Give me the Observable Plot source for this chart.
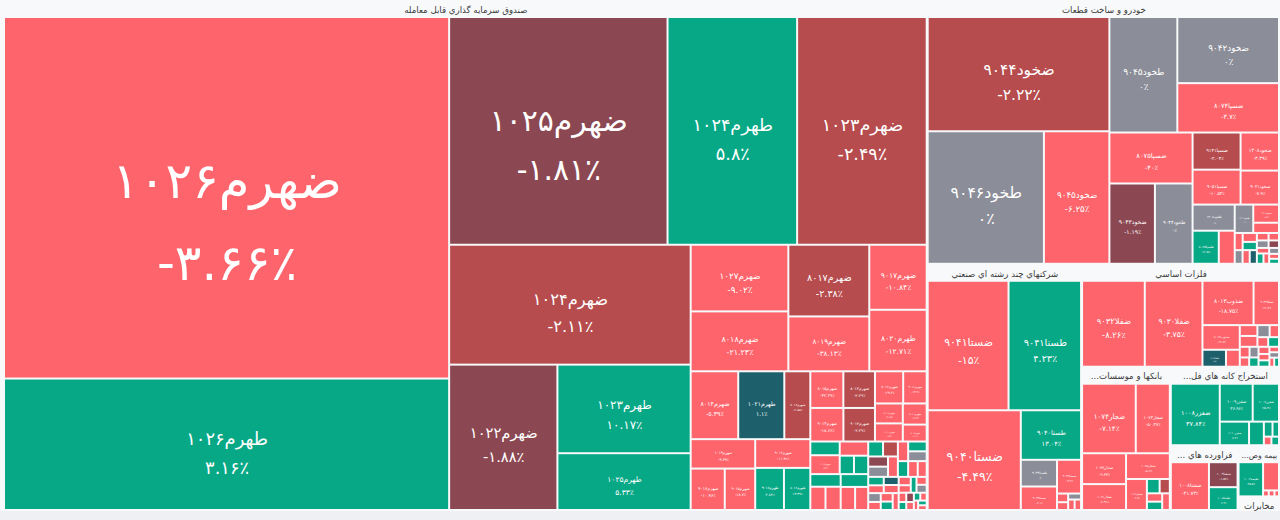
<!DOCTYPE html>
<html><head><meta charset="utf-8">
<script src="https://cdn.jsdelivr.net/npm/d3@7"></script>
<script src="https://cdn.jsdelivr.net/npm/@observablehq/plot@0.6"></script>
<style>
html,body{margin:0;padding:0;background:#eef0f4;}
#chart{width:1280px;height:520px;overflow:hidden;}
#chart svg{overflow:visible;}
</style></head><body><div id="chart"></div>
<script>
// ---- group (sector) titles, in layout order ----
const groupNames = ["صندوق سرمايه گذاري قابل معامله", "خودرو و ساخت قطعات", "شرکتهاي چند رشته اي صنعتي", "فلزات اساسي", "بانکها و موسسات...", "استخراج کانه هاي فل...", "فراورده هاي ...", "بيمه وص...", "مخابرات"];

// ---- group 1: ETF options ----
const etfSymbols = ["ضهرم1026","طهرم1026","ضهرم1025","طهرم1024","ضهرم1023","ضهرم1024","ضهرم1022","طهرم1023","طهرم1025",
 "ضهرم1027","ضهرم8018","ضهرم8017","ضهرم8019","ضهرم9017","طهرم8020",
 "ضهرم8014","طهرم1021","ضهرم8016","ضهرم1019","ضهرم9016","ضهرم9015","ضهرم9014","طهرم9018","طهرم8016",
 "ضهرم8015","ضهرم8013","ضهرم9013","ضهرم9012","ضهرم8012","ضهرم9011","ضهرم8011","ضهرم9010","ضهرم8010","ضهرم9009",
 "طهرم9017","ضهرم1018","ضهرم1017","طهرم9016","طهرم9015","طهرم8019","ضهرم1016","ضهرم8009","طهرم8018","ضهرم9008","ضهرم8008",
 "طهرم8017","ضهرم8007","ضهرم1015","طهرم9019","ضهرم9007","ضهرم8006","طهرم1019","طهرم8015","طهرم9014","ضهرم1014","ضهرم9006","طهرم8014","ضهرم8005","طهرم1020","ضهرم1013","طهرم9013","ضهرم9005","ضهرم8004","طهرم8013","ضهرم1012","ضهرم9004","ضهرم8003","طهرم1018","ضهرم1011","طهرم9012","ضهرم9003","ضهرم8002","طهرم8012","ضهرم1010","ضهرم9002","ضهرم8001","طهرم1017","ضهرم1009","ضهرم9001"];
const etfValues = [159.5,58,49.3,29.25,29.25,28.7,15.6,11.7,7.5,
 6.45,5.8,5.75,4.4,3.7,3.5,
 3.2,3.1,1.75,1.88,1.4,1.25,1.57,1.2,1.1,
 1.2,1.15,1.1,1.05,0.9,0.75,0.55,0.5,0.5,0.4,
 0.4,0.55,0.4,0.26,0.26,0.38,0.35,0.35,0.35,0.33,0.3,
 0.22,0.22,0.2,0.2,0.2,0.2,0.18,0.18,0.16,0.15,0.14,0.13,0.12,0.12,0.12,0.11,0.1,0.1,0.1,0.1,0.1,0.09,0.09,0.08,0.08,0.07,0.07,0.06,0.06,0.05,0.05,0.04,0.04,0.04];
const etfChanges = [-3.66,3.16,-1.81,5.8,-2.49,-2.11,-1.88,10.17,5.33,
 -9.02,-21.23,-2.38,-38.13,-10.84,-12.71,
 -5.39,1.1,-2.55,-9.39,-10.96,-18.7,-11.92,4.84,13.39,
 -32.49,-2.39,-18.66,-2.39,-29.3,-14.2,-21.5,-8.7,-16.4,-11.1,
 6.2,-7.4,-12.8,9.5,18.1,7.3,-6.6,-24.1,11.8,-9.9,-15.2,
 6.1,-2.6,-1.4,0,-13.2,-9.8,4.4,0,8.9,-17.5,-6.3,15.2,-11.9,1.3,-7.7,0,-20.4,-5.5,9.1,-8.8,-14.6,-3.9,7.2,-12.3,0,-6.8,-1.2,10.5,-9.6,5.7,-18.2,-4.4,3.8,-10.1];

// ---- group 2: auto ----
const autoSymbols = ["ضخود9044","طخود9046","ضخود9045","طخود9045","ضخود9042","ضسپا8074","ضسپا8075","ضخود9043","طخود9044","ضسپا9141","ضسپا9051","ضخود1308","ضخود9041","طخود1308","طسپا8075","ضسپا9140","طخود1309","ضخود1309","ضخود1310",
 "ضخود1311","ضسپا9142","طسپا9141","طخود1310","ضخود9040","طسپا8074","ضسپا9052","طخود9043","ضخود1312","ضسپا8076","ضخود9039","طخود9042","ضسپا9053","طخود1311","ضخود1313","طسپا9051"];
const autoValues = [21.3,15.8,8.9,8.05,6.9,5.15,4.35,3.75,3.1,1.83,1.72,1.5,1.34,1.13,0.89,0.54,0.54,0.48,0.27,
 0.14,0.13,0.12,0.11,0.1,0.1,0.09,0.09,0.08,0.08,0.07,0.07,0.06,0.06,0.05,0.05];
const autoChanges = [-2.22,0,-6.25,0,0,-3.7,-40,-1.19,0,-2.04,-10.53,-3.39,-7.9,0,12.5,-8.1,0,-5.2,-9.4,
 -6.4,-11.2,8.3,0,-4.9,1.6,-7.3,0,-12.1,-1.7,-5.8,6.6,-9.1,0,-3.6,7.7];

// ---- group 3: diversified industrials ----
const multiSymbols = ["ضستا9041","طستا9041","ضستا9040","طستا9040","طستا9039","ضستا9039","ضستا9042","ضستا9043","ضستا9038","طستا9042","ضستا9044","ضستا9037"];
const multiValues = [10.83,9.72,9.61,3.09,1.0,0.88,0.84,0.1,0.09,0.08,0.07,0.07];
const multiChanges = [-15,4.23,-4.49,13.04,0,-6.1,-9.2,-8.4,-12.5,0,-5.6,-7.1];

// ---- group 4: basic metals ----
const metalSymbols = ["ضفلا9032","ضفلا9030","ضذوب8013","ضفلا9034","ضذوب8012","طفلا9032","ضفلا9035",
 "ضذوب8014","ضفلا9031","طفلا9030","ضذوب8011","ضفلا9036","طذوب8013","ضفلا9029","طفلا9034","ضذوب8015","طذوب8012","ضفلا9028","ضذوب8010","طفلا9031","ضفلا9037","طفلا9035","ضذوب8016","طذوب8014"];
const metalValues = [6.21,5.71,2.61,1.3,1.06,0.46,0.27,
 0.22,0.22,0.17,0.13,0.12,0.12,0.12,0.11,0.1,0.1,0.09,0.08,0.08,0.06,0.06,0.05,0.05];
const metalChanges = [-8.26,-3.75,-18.75,-21.4,-12.6,1.5,-7.2,
 -9.7,-14.1,0,-6.2,-11.4,7.9,-8.3,0,-16.2,5.1,-4.6,-10.8,9.3,-7.5,0,-13.3,6.8];

// ---- group 5: banks ----
const bankSymbols = ["ضجار1074","ضجار1073","ضجار1072","ضجار1071","ضجار1075","ضجار1076","طجار1074","ضجار1070","ضجار1077","طجار1073","ضجار1078"];
const bankValues = [4.1,2.6,1.49,1.25,1.24,0.71,0.2,0.16,0.14,0.14,0.14];
const bankChanges = [-7.14,-50.37,-9.33,-6.91,-5.2,-4.8,6.3,-2.4,-8.8,9.7,-11.6];

// ---- group 6: metal ore mining ----
const mineSymbols = ["ضفزر1008","ضفزر1009","ضفزر1007","ضفزر1010","ضفزر1011","ضفزر1006","ضفزر1012","طفزر1008","ضفزر1005"];
const mineValues = [3.71,1.54,1.23,0.85,0.43,0.16,0.12,0.08,0.08];
const mineChanges = [37.84,36.96,25.4,8.2,12.3,14.6,9.8,-6.5,11.1];

// ---- group 7: oil products ----
const oilSymbols = ["ضشنا1008","ضشنا1009","طشنا1008"];
const oilValues = [2.4,0.94,0.86];
const oilChanges = [-41.73,-1.52,6.4];

// ---- group 8: insurance ----
const insSymbols = ["طبيمه1004","ضبيمه1004","ضبيمه1005","ضبيمه1003","ضبيمه1006"];
const insValues = [1.23,0.66,0.05,0.05,0.04];
const insChanges = [25.5,-8.1,-6.2,-9.4,-4.7];

// ---- group 9: telecom ----
const telSymbols = ["ضمخا1002","طمخا1002"];
const telValues = [0.3,0.24];
const telChanges = [-3.4,2.1];

// ---- colour buckets (threshold on % change) ----
const colorDomain = [-3, -2, 0, 1e-9, 3];
const colorRange = ["#fe646b", "#b64c4d", "#8c4852", "#8b8d98", "#1d5f6a", "#07a886"];

const groupSeries = [
  [etfSymbols, etfValues, etfChanges], [autoSymbols, autoValues, autoChanges],
  [multiSymbols, multiValues, multiChanges], [metalSymbols, metalValues, metalChanges],
  [bankSymbols, bankValues, bankChanges], [mineSymbols, mineValues, mineChanges],
  [oilSymbols, oilValues, oilChanges], [insSymbols, insValues, insChanges],
  [telSymbols, telValues, telChanges]
];

const fa = s => String(s).replace(/[0-9]/g, d => "۰۱۲۳۴۵۶۷۸۹"[+d]);
const pct = c => "\u200E" + fa(String(c)) + "٪";

const tree = {children: groupNames.map((name, gi) => ({
  name,
  children: groupSeries[gi][0].map((s, i) => ({name: s, value: groupSeries[gi][1][i], change: groupSeries[gi][2][i]}))
}))};

const OX = 5, OY = 2;
const root = d3.hierarchy(tree).sum(d => d.value || 0);
d3.treemap()
  .tile(d3.treemapBinary)
  .size([1273, 507])
  .paddingInner(n => n.depth === 0 ? 3 : 2)
  .paddingTop(n => n.depth === 1 ? 16 : 0)(root);

const groupRows = root.children.map(g => {
  const w = g.x1 - g.x0;
  const n = g.data.name.length;
  return {
    x0: g.x0 + OX, x1: g.x1 + OX, y0: g.y0 + OY, y1: g.y1 + OY,
    cx: (g.x0 + g.x1) / 2 + OX, ty: g.y0 + OY + 7.5,
    fs: Math.min(8.6, w / (n * 0.5)),
    label: g.data.name + "\u200F"
  };
});
const leafRows = root.leaves().filter(l => l.x1 > l.x0 && l.y1 > l.y0).map(l => {
  const w = l.x1 - l.x0, h = l.y1 - l.y0, m = Math.min(w, h);
  return {
    x0: l.x0 + OX, x1: l.x1 + OX, y0: l.y0 + OY, y1: l.y1 + OY,
    change: l.data.change,
    cx: (l.x0 + l.x1) / 2 + OX, cy: (l.y0 + l.y1) / 2 + OY + 0.04 * m,
    fs: 0.138 * m,
    label: fa(l.data.name) + "\n" + pct(l.data.change)
  };
});
const labelRows = leafRows.filter(d => d.fs >= 2);

const FONT = "'DejaVu Sans', 'Noto Sans', sans-serif";
const chart = Plot.plot({
  width: 1280, height: 511, margin: 0, axis: null,
  style: {background: "#f8f9fb", fontFamily: FONT, overflow: "visible"},
  x: {type: "identity"}, y: {type: "identity"},
  color: {type: "threshold", domain: colorDomain, range: colorRange},
  marks: [
    Plot.rect(groupRows, {x1: "x0", x2: "x1", y1: "y0", y2: "y1", fill: "#f8f9fb"}),
    Plot.text(groupRows, {x: "cx", y: "ty", text: "label", fontSize: "fs", fill: "#3a3a3a", fontFamily: FONT}),
    Plot.rect(leafRows, {x1: "x0", x2: "x1", y1: "y0", y2: "y1", fill: "change"}),
    Plot.text(labelRows, {x: "cx", y: "cy", text: "label", fontSize: "fs", fill: "white", lineHeight: 1.65, fontFamily: FONT})
  ]
});
document.getElementById("chart").appendChild(chart);
</script>
</body></html>
